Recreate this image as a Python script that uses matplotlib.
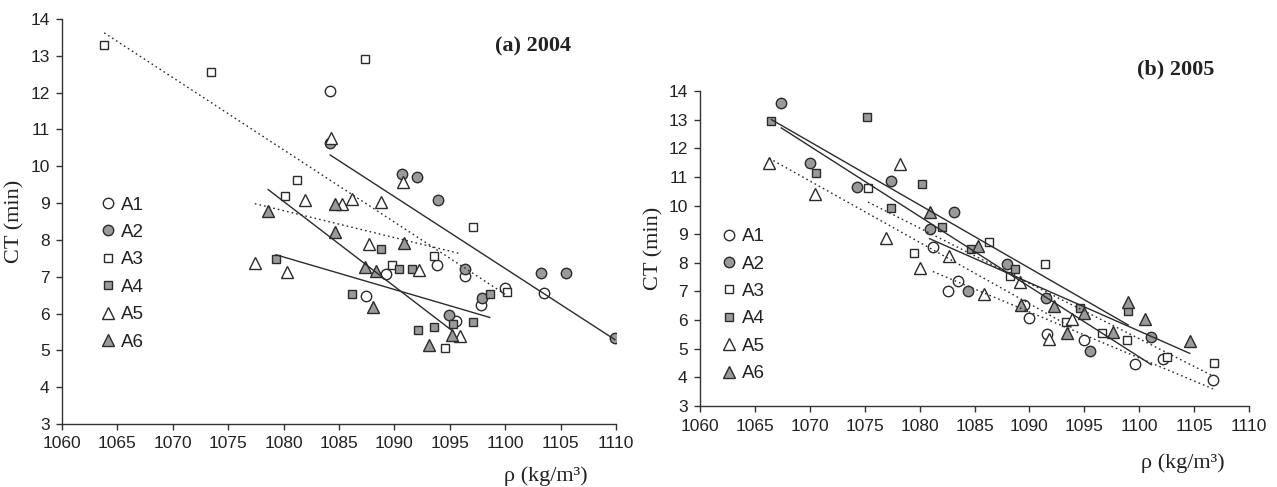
import numpy as np
import matplotlib.pyplot as plt

# ---- 2004 data (density kg/m3, CT min) ----
x04_A1 = [1084.2, 1087.4, 1089.2, 1093.8, 1095.6, 1096.4, 1097.8, 1100.0, 1103.5]
y04_A1 = [12.05, 6.48, 7.07, 7.31, 5.79, 7.03, 6.23, 6.70, 6.57]
x04_A2 = [1084.2, 1090.7, 1092.0, 1093.9, 1094.9, 1096.4, 1097.9, 1103.2, 1105.5, 1109.9]
y04_A2 = [10.64, 9.79, 9.72, 9.09, 5.96, 7.20, 6.42, 7.10, 7.10, 5.33]
x04_A3 = [1063.8, 1073.4, 1080.1, 1081.2, 1087.3, 1089.8, 1093.6, 1094.6, 1097.1, 1100.2]
y04_A3 = [13.30, 12.55, 9.18, 9.63, 12.91, 7.31, 7.56, 5.07, 8.36, 6.59]
x04_A4 = [1079.3, 1086.2, 1088.8, 1090.4, 1091.6, 1092.1, 1093.6, 1095.3, 1097.1, 1098.6]
y04_A4 = [7.47, 6.53, 7.76, 7.22, 7.20, 5.54, 5.63, 5.72, 5.78, 6.53]
x04_A5 = [1077.4, 1080.3, 1081.9, 1084.3, 1085.3, 1086.2, 1087.7, 1088.8, 1090.8, 1092.2, 1095.9]
y04_A5 = [7.38, 7.14, 9.09, 10.77, 8.98, 9.12, 7.88, 9.04, 9.57, 7.19, 5.39]
x04_A6 = [1078.6, 1084.6, 1084.6, 1087.3, 1088.3, 1088.1, 1090.9, 1093.1, 1095.2]
y04_A6 = [8.79, 8.98, 8.22, 7.26, 7.16, 6.18, 7.91, 5.15, 5.43]

# ---- 2005 data ----
x05_A1 = [1081.2, 1082.6, 1083.5, 1089.5, 1090.0, 1091.6, 1095.0, 1099.6, 1102.2, 1106.7]
y05_A1 = [8.54, 7.03, 7.37, 6.52, 6.06, 5.50, 5.29, 4.46, 4.64, 3.91]
x05_A2 = [1067.4, 1070.0, 1074.3, 1077.4, 1080.9, 1083.1, 1084.4, 1088.0, 1091.5, 1095.5, 1101.1]
y05_A2 = [13.57, 11.47, 10.66, 10.86, 9.17, 9.77, 7.03, 7.96, 6.77, 4.92, 5.40]
x05_A3 = [1075.3, 1079.5, 1086.3, 1088.2, 1091.4, 1093.3, 1096.6, 1098.9, 1102.5, 1106.8]
y05_A3 = [10.60, 8.35, 8.74, 7.54, 7.96, 5.94, 5.54, 5.30, 4.70, 4.51]
x05_A4 = [1066.5, 1070.6, 1075.2, 1077.4, 1080.2, 1082.0, 1084.7, 1088.7, 1094.6, 1099.0]
y05_A4 = [12.95, 11.12, 13.10, 9.92, 10.74, 9.24, 8.47, 7.77, 6.41, 6.33]
x05_A5 = [1066.3, 1070.5, 1076.9, 1078.2, 1080.0, 1082.7, 1085.9, 1089.1, 1091.8, 1093.9]
y05_A5 = [11.47, 10.40, 8.86, 11.44, 7.81, 8.25, 6.91, 7.33, 5.35, 6.05]
x05_A6 = [1080.9, 1085.3, 1089.2, 1092.2, 1093.4, 1095.0, 1097.6, 1099.0, 1100.5, 1104.6]
y05_A6 = [9.76, 8.59, 6.52, 6.49, 5.56, 6.26, 5.57, 6.62, 6.04, 5.28]

labels = ['A1', 'A2', 'A3', 'A4', 'A5', 'A6']
markers = ['o', 'o', 's', 's', '^', '^']
msizes = [7.5, 7.5, 6, 6, 8, 8]
fills = ['white', '#9a9a9a', 'white', '#9a9a9a', 'white', '#9a9a9a']
# which groups get a regression line in each year
fit04 = [False, True, True, True, True, True]
fit05 = [True, True, True, True, True, True]

edge = '#2b2b2b'
sans = 'Liberation Sans'
serif = 'Liberation Serif'

fig = plt.figure(figsize=(12.77, 4.87), dpi=100)
ax1 = fig.add_axes([0.0486, 0.1294, 0.4338, 0.8316])
ax2 = fig.add_axes([0.5482, 0.1663, 0.4299, 0.6468])


def draw(ax, xs, ys, fits):
    handles = []
    for i in range(6):
        x = np.array(xs[i])
        y = np.array(ys[i])
        h, = ax.plot(x, y, linestyle='none', marker=markers[i], ms=msizes[i],
                     mfc=fills[i], mec=edge, mew=1.0, zorder=3)
        handles.append(h)
        if fits[i]:
            k, b = np.polyfit(x, y, 1)
            xx = np.array([x.min(), x.max()])
            ls = '-' if fills[i] != 'white' else (0, (1.2, 2.2))
            ax.plot(xx, k*xx + b, color='#2b2b2b', lw=1.0, ls=ls, zorder=4)
    ax.set_xlim(1060, 1110)
    ax.set_ylim(3, 14)
    ax.set_xticks(np.arange(1060, 1111, 5))
    ax.set_yticks(np.arange(3, 15, 1))
    for s in ['top', 'right']:
        ax.spines[s].set_visible(False)
    for s in ['left', 'bottom']:
        ax.spines[s].set_color('#333333')
        ax.spines[s].set_linewidth(1.0)
    ax.tick_params(direction='out', length=4, width=1.0, color='#333333',
                   labelcolor='#222222', labelsize=12.5)
    ax.tick_params(axis='x', pad=5)
    ax.tick_params(axis='y', pad=5)
    for t in ax.get_xticklabels() + ax.get_yticklabels():
        t.set_fontfamily(sans)
    ax.set_ylabel('CT (min)', fontfamily=serif, fontsize=16, color='#222222')
    ax.set_xlabel('ρ (kg/m³)', fontfamily=serif, fontsize=16, color='#222222')
    return handles


h1 = draw(ax1, [x04_A1, x04_A2, x04_A3, x04_A4, x04_A5, x04_A6],
          [y04_A1, y04_A2, y04_A3, y04_A4, y04_A5, y04_A6], fit04)
h2 = draw(ax2, [x05_A1, x05_A2, x05_A3, x05_A4, x05_A5, x05_A6],
          [y05_A1, y05_A2, y05_A3, y05_A4, y05_A5, y05_A6], fit05)

ax1.xaxis.set_label_coords(0.874, -0.105)
ax2.xaxis.set_label_coords(0.88, -0.15)
ax1.yaxis.set_label_coords(-0.067, 0.5)
ax2.yaxis.set_label_coords(-0.067, 0.5)

ax1.text(0.85, 0.931, '(a) 2004', transform=ax1.transAxes, ha='center', va='center',
         fontfamily=serif, fontweight='bold', fontsize=16, color='#222222')
ax2.text(0.867, 1.067, '(b) 2005', transform=ax2.transAxes, ha='center', va='center',
         fontfamily=serif, fontweight='bold', fontsize=16, color='#222222')

for ax, h, anchor in [(ax1, h1, (0.066, 0.562)), (ax2, h2, (0.036, 0.565))]:
    leg = ax.legend(h, labels, loc='upper left', bbox_to_anchor=anchor, frameon=False,
                    borderpad=0, borderaxespad=0, handlelength=1.0, handletextpad=0.2,
                    labelspacing=0.55, prop={'family': sans, 'size': 13.5})
    for t in leg.get_texts():
        t.set_color('#222222')

fig.savefig('out.png', dpi=100)
